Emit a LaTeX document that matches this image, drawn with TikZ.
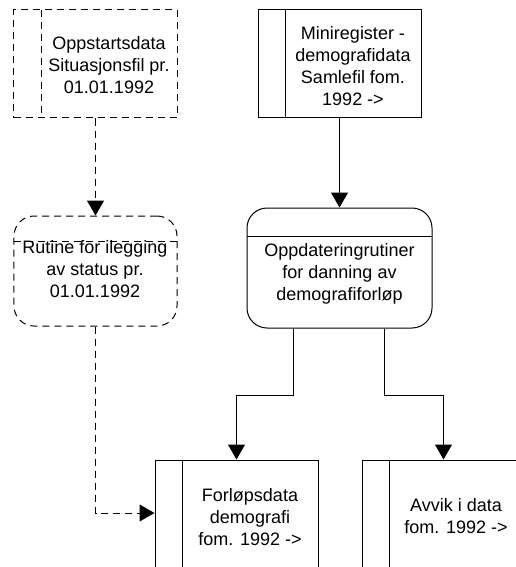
\documentclass[tikz,border=0pt]{standalone}
\usepackage{fontspec}
\setmainfont{Liberation Sans}
\usetikzlibrary{positioning,arrows.meta}

\tikzset{
  txt/.style={align=center, inner sep=0pt, font=\fontsize{18bp}{22bp}\selectfont},
  store/.style={draw, line width=1bp, minimum width=163bp, minimum height=108bp,
    path picture={\draw[line width=1bp] ([xshift=27bp]path picture bounding box.north west)
      -- ([xshift=27bp]path picture bounding box.south west);}},
  proc/.style={draw, line width=1bp, rounded corners=20bp, minimum width=163bp, minimum height=110bp,
    path picture={\draw[line width=1bp] ([yshift=-#1]path picture bounding box.north west)
      -- ([yshift=-#1]path picture bounding box.north east);}},
  pending/.style={dash pattern=on 7bp off 5bp},
  flow/.style={line width=1bp, -{Triangle[length=15bp,width=17bp]}},
}

\begin{document}
\begin{tikzpicture}[x=1bp, y=-1bp]
            \useasboundingbox (0,0) rectangle (516,567);

            \node[store, pending]                        (start) at (95.5,64) {};
            \node[proc=25bp, pending, below=97bp of start] (rutine) {};
            \node[store]                                 (mini) at (339.5,64) {};
            \node[proc=28bp, minimum width=185bp, minimum height=120bp,
                  below=89bp of mini]                    (oppd) {};
            \node[store, minimum height=114bp]           (forlop) at (236.5,517) {};
            \node[store, minimum height=114bp, right=43bp of forlop] (avvik) {};

            \node[txt] (start-t)  at (109,65)    {Oppstartsdata\\Situasjonsfil pr.\\01.01.1992};
            \node[txt] (rutine-t) at (95,269)    {Rutine for ilegging\\av status pr.\\01.01.1992};
            \node[txt] (mini-t)   at (353,66)    {Miniregister -\\demografidata\\Samlefil fom.\\1992 ->};
            \node[txt] (oppd-t)   at (339.5,274) {Oppdateringrutiner\\for danning av\\demografiforløp};
            \node[txt] (forlop-t) at (250,517)   {Forløpsdata\\demografi\\fom. 1992 ->};
            \node[txt] (avvik-t)  at (456,516)   {Avvik i data\\fom. 1992 ->};

            \draw[flow, pending] (start) -- (rutine);
            \draw[flow, pending] (rutine.south) |- ([yshift=4bp]forlop.west);
            \draw[flow] (mini) -- (oppd);
            \draw[flow] ([xshift=-46bp]oppd.south) -- ++(0,67) -| (forlop.north);
            \draw[flow] ([xshift=45bp]oppd.south) -- ++(0,67) -| (avvik.north);
        \end{tikzpicture}
\end{document}
